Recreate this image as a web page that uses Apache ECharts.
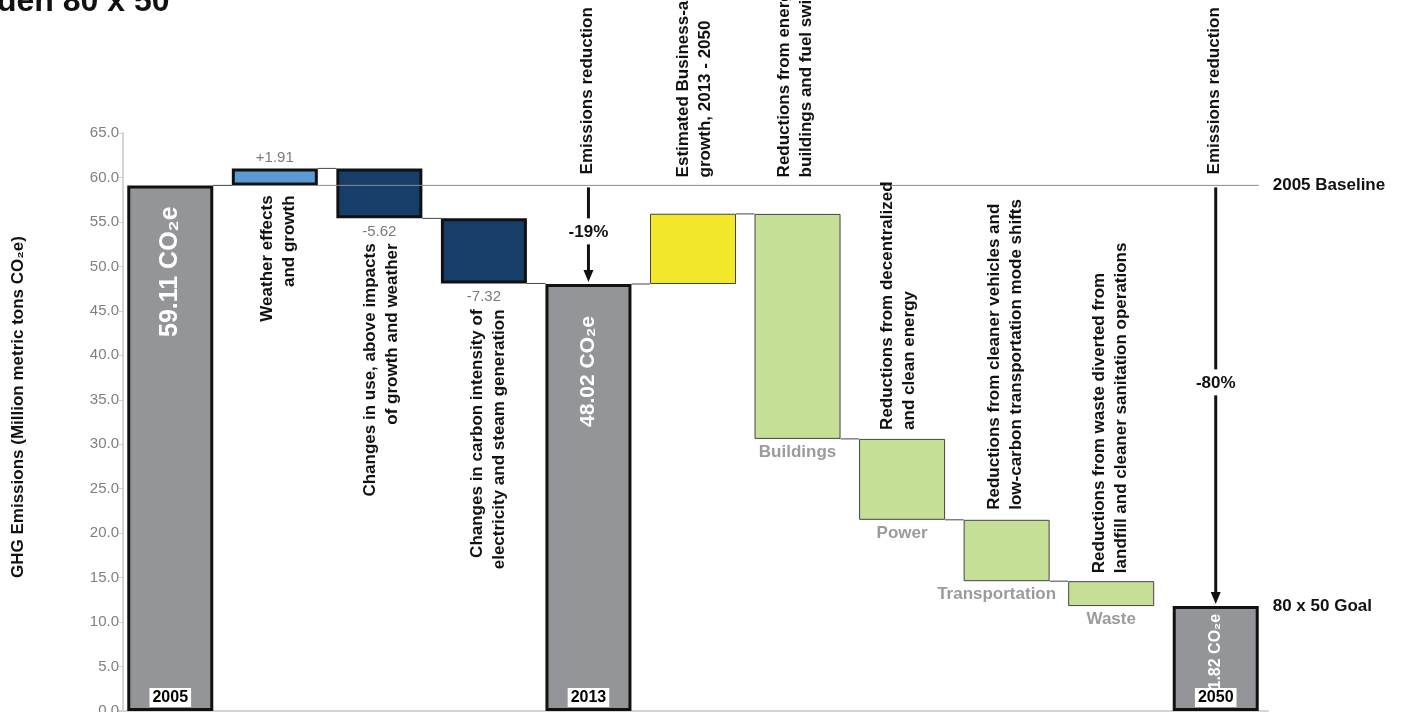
<!DOCTYPE html>
<html><head><meta charset="utf-8">
<script src="https://cdn.jsdelivr.net/npm/echarts@6/dist/echarts.min.js"></script>
<style>html,body{margin:0;padding:0;background:#fff;overflow:hidden}#c{width:1405px;height:712px}</style>
</head><body><div id="c"></div>
<script>
// ---- data ----
const categories = ['2005', 'Weather effects and growth', 'Changes in use', 'Carbon intensity', '2013',
  'Business-as-usual growth', 'Buildings', 'Power', 'Transportation', 'Waste', '2050'];
const baseValues = [0, 59.11, 55.40, 48.08, 0, 48.02, 30.6, 21.5, 14.6, 11.8, 0];
const barValues  = [59.11, 1.91, 5.62, 7.32, 48.02, 7.9, 25.3, 9.1, 6.9, 2.8, 11.82];
const barKinds   = ['total', 'up', 'down', 'down', 'total', 'bau', 'cut', 'cut', 'cut', 'cut', 'total'];
const barLabels  = ['2005', '+1.91', '-5.62', '-7.32', '2013', '', 'Buildings', 'Power', 'Transportation', 'Waste', '2050'];
const totalTexts = ['59.11 CO₂e', '', '', '', '48.02 CO₂e', '', '', '', '', '', '11.82 CO₂e'];
const connectorLevels = [59.11, 61.02, 55.40, 48.08, 48.02, 55.9, 30.6, 21.5, 14.6];
const baselineValue = 59.11;
const goalValue = 11.82;
const reductionLabels = ['-19%', '-80%'];
const yMin = 0, yMax = 65, yStep = 5;
const titleText = 'den 80 x 50';
const yAxisName = 'GHG Emissions (Million metric tons CO₂e)';

// ---- styles ----
const FONT = '"Liberation Sans", Arial, Helvetica, sans-serif';
const kindStyle = {
  total: { color: '#939598', borderColor: '#111', borderWidth: 3 },
  up:    { color: '#5b9bd5', borderColor: '#111', borderWidth: 3 },
  down:  { color: '#163e69', borderColor: '#111', borderWidth: 3 },
  bau:   { color: '#f2e829', borderColor: '#444', borderWidth: 1 },
  cut:   { color: '#c6df96', borderColor: '#444', borderWidth: 1 }
};
const BAR_W = 86;

function labelFor(i) {
  const k = barKinds[i];
  if (k === 'up') {
    return { show: true, position: 'top', distance: 3, formatter: barLabels[i], color: '#7a7a7a', fontSize: 15, fontFamily: FONT };
  }
  if (k === 'down') {
    return { show: true, position: 'bottom', distance: 6, formatter: barLabels[i], color: '#7a7a7a', fontSize: 15, fontFamily: FONT };
  }
  if (k === 'cut') {
    return { show: true, position: 'bottom', distance: 5, formatter: barLabels[i], color: '#9b9b9b',
      fontWeight: 'bold', fontSize: 17, fontFamily: FONT, offset: barLabels[i] === 'Transportation' ? [-10, 0] : [0, 0] };
  }
  return { show: false };
}

const option = {
  animation: false,
  backgroundColor: '#fff',
  grid: { left: 118, right: 137, top: 133, bottom: 1, containLabel: false, outerBoundsMode: 'none' },
  xAxis: {
    type: 'category', data: categories,
    axisLine: { show: true, lineStyle: { color: '#d4d4d4', width: 2 } },
    axisTick: { show: false }, axisLabel: { show: false }, splitLine: { show: false }
  },
  yAxis: {
    type: 'value', min: yMin, max: yMax, interval: yStep, offset: -5,
    axisLine: { show: true, lineStyle: { color: '#d4d4d4', width: 2 } },
    axisTick: { show: true, length: 4, lineStyle: { color: '#cfcfcf' } },
    axisLabel: { color: '#7f7f7f', fontSize: 15, fontFamily: FONT, margin: 4, formatter: v => v.toFixed(1) },
    splitLine: { show: false }
  },
  series: [
    { name: 'base', type: 'bar', stack: 'w', barWidth: BAR_W, silent: true,
      itemStyle: { color: 'transparent' }, data: baseValues },
    { name: 'value', type: 'bar', stack: 'w', barWidth: BAR_W, z: 2,
      data: barValues.map((v, i) => ({ value: v, itemStyle: kindStyle[barKinds[i]], label: labelFor(i) })) },
    { name: 'connectors', type: 'custom', z: 1, silent: true,
      data: connectorLevels.map((v, i) => [i, v]),
      renderItem(params, api) {
        const i = api.value(0), v = api.value(1);
        const a = api.coord([i, v]), b = api.coord([i + 1, v]);
        return { type: 'line', shape: { x1: a[0] + BAR_W / 2, y1: a[1], x2: b[0] - BAR_W / 2, y2: b[1] },
          style: { stroke: '#444', lineWidth: 1 } };
      } },
    { name: 'baseline', type: 'custom', z: 5, silent: true,
      data: [[1, baselineValue]],
      renderItem(params, api) {
        const a = api.coord([1, api.value(1)]), b = api.coord([categories.length - 1, api.value(1)]);
        return { type: 'line', shape: { x1: a[0] + BAR_W / 2, y1: a[1], x2: b[0] + BAR_W / 2, y2: b[1] },
          style: { stroke: '#8a8a8a', lineWidth: 1 } };
      } }
  ]
};

const chart = echarts.init(document.getElementById('c'));
chart.setOption(option);

const P = (i, v) => chart.convertToPixel({ xAxisIndex: 0, yAxisIndex: 0 }, [i, v]);
const topOf = i => baseValues[i] + barValues[i];
const g = [];

function vtext(x, y, text, align, size, color, weight) {
  g.push({ type: 'text', x, y, rotation: Math.PI / 2, z: 50,
    style: { text, textAlign: align, align, textVerticalAlign: 'middle', verticalAlign: 'middle',
      fill: color || '#111', fontSize: size || 17, fontWeight: weight || 'bold', fontFamily: FONT, lineHeight: 22 } });
}
function htext(x, y, text, align, size, color, weight, z) {
  g.push({ type: 'text', x, y, z: z || 50,
    style: { text, textAlign: align, align, textVerticalAlign: 'middle', verticalAlign: 'middle',
      fill: color || '#111', fontSize: size || 17, fontWeight: weight || 'bold', fontFamily: FONT } });
}

const yBase = P(0, baselineValue)[1];
const yZero = P(0, 0)[1];
const cx = i => P(i, 0)[0];

// title (clipped at top-left)
g.push({ type: 'text', x: -3, y: -14, z: 50, style: { text: titleText, fill: '#111', fontSize: 32, fontWeight: 'bold', fontFamily: FONT } });
// y axis name
vtext(18, (P(0, yMax)[1] + yZero) / 2 - 15, yAxisName, 'center', 17);

// texts under bars (top anchored => textAlign right)
vtext(cx(1) + 3, P(1, baseValues[1])[1] + 10, 'Weather effects\nand growth', 'right');
vtext(cx(2) + 2, P(2, baseValues[2])[1] + 25, 'Changes in use, above impacts\nof growth and weather', 'right');
vtext(cx(3) + 4, P(3, baseValues[3])[1] + 26, 'Changes in carbon intensity of\nelectricity and steam generation', 'right');
// texts above (bottom anchored => textAlign left)
vtext(cx(4) - 1, yBase - 11, 'Emissions reduction', 'left');
vtext(cx(5) + 1, yBase - 8, 'Estimated Business-as-usual\ngrowth, 2013 - 2050', 'left');
vtext(cx(6) - 2, yBase - 8, 'Reductions from energy efficiency in\nbuildings and fuel switching', 'left');
vtext(cx(7) - 4, P(7, topOf(7))[1] - 9, 'Reductions from decentralized\nand clean energy', 'left');
vtext(cx(8) - 1, P(8, topOf(8))[1] - 10, 'Reductions from cleaner vehicles and\nlow-carbon transportation mode shifts', 'left');
vtext(cx(9) - 1, P(9, topOf(9))[1] - 8, 'Reductions from waste diverted from\nlandfill and cleaner sanitation operations', 'left');
vtext(cx(10) - 1, yBase - 11, 'Emissions reduction', 'left');

// in-bar totals (white, rotated)
vtext(cx(0), P(0, topOf(0))[1] + 21, totalTexts[0], 'right', 25, '#fff');
vtext(cx(4), P(4, topOf(4))[1] + 32, totalTexts[4], 'right', 21, '#fff');
vtext(cx(10), P(10, topOf(10))[1] + 8, totalTexts[10], 'right', 16, '#fff');

// year boxes at bar bottoms
[0, 4, 10].forEach(i => {
  g.push({ type: 'text', x: cx(i), y: yZero - 4, z: 60,
    style: { text: barLabels[i], textAlign: 'center', align: 'center', textVerticalAlign: 'bottom', verticalAlign: 'bottom',
      fill: '#000', fontSize: 16, fontWeight: 'bold', fontFamily: FONT, backgroundColor: '#fff', padding: [2, 3, 1, 3] } });
});

// right side labels
htext(cx(10) + 57, yBase, '2005 Baseline', 'left', 17);
htext(cx(10) + 57, P(10, goalValue)[1], '80 x 50 Goal', 'left', 17);

// arrows
function arrow(i, fromV, toV, labelY, label) {
  const x = cx(i);
  const y1 = P(i, fromV)[1] + 2;
  const y2 = P(i, toV)[1] - 2;
  g.push({ type: 'line', z: 40, shape: { x1: x, y1, x2: x, y2: labelY - 14 }, style: { stroke: '#111', lineWidth: 3 } });
  g.push({ type: 'line', z: 40, shape: { x1: x, y1: labelY + 12, x2: x, y2: y2 - 10 }, style: { stroke: '#111', lineWidth: 3 } });
  g.push({ type: 'polygon', z: 40, shape: { points: [[x - 5, y2 - 12], [x + 5, y2 - 12], [x, y2]] }, style: { fill: '#111' } });
  htext(x, labelY, label, 'center', 17);
}
arrow(4, baselineValue, topOf(4), yBase + 47, reductionLabels[0]);
arrow(10, baselineValue, goalValue, yBase + 198, reductionLabels[1]);

chart.setOption({ graphic: { elements: g } });
</script>
</body></html>
